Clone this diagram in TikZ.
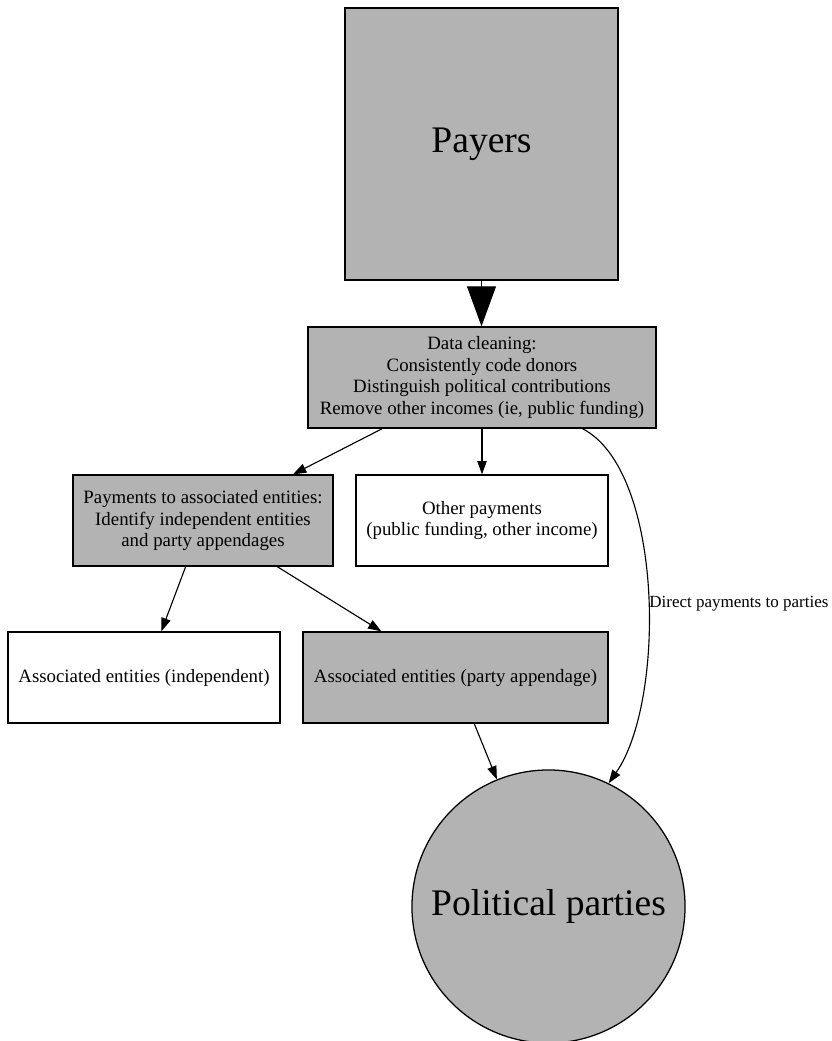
\documentclass[tikz,border=0pt]{standalone}
\usepackage{fontspec}
\setmainfont{Liberation Serif}
\usetikzlibrary{arrows.meta}
\definecolor{boxgray}{HTML}{B3B3B3}

\begin{document}
\begin{tikzpicture}[x=0.025cm, y=0.025cm]

% --- Styles ---
\tikzset{
    graybox/.style={rectangle, fill=boxgray, draw=black, line width=0.9pt,
        inner sep=0pt, align=center, font=\fontsize{13.4}{15.3}\selectfont},
    whitebox/.style={graybox, fill=white},
    bigtext/.style={font=\fontsize{26.7}{32}\selectfont},
    flow/.style={-{Triangle[length=9.5pt, width=6.7pt]}, line width=0.8pt},
    bigflow/.style={-{Triangle[length=28.5pt, width=20.6pt]}, line width=0.8pt},
    edgelabel/.style={anchor=west, inner sep=0.5pt, font=\fontsize{12.1}{14}\selectfont}
}

\useasboundingbox (0,0) rectangle (832,-1041);

% --- Top: payers and cleaning ---
\node[graybox, bigtext, minimum width=6.825cm, minimum height=6.8cm] (payers) at (481.5,-144) {Payers};
\node[graybox, minimum width=8.7cm, minimum height=2.525cm] (cleaning) at (482,-377.5)
    {Data cleaning:\\Consistently code donors\\Distinguish political contributions\\Remove other incomes (ie, public funding)};

% --- Middle row ---
\node[graybox, minimum width=6.5cm, minimum height=2.275cm] (assocpay) at (203,-520.5)
    {Payments to associated entities:\\Identify independent entities\\and party appendages};
\node[whitebox, minimum width=6.3cm, minimum height=2.275cm] (otherpay) at (482,-520.5)
    {Other payments\\(public funding, other income)};

% --- Associated entities ---
\node[whitebox, minimum width=6.8cm, minimum height=2.275cm] (indep) at (144,-677.5)
    {Associated entities (independent)};
\node[graybox, minimum width=7.625cm, minimum height=2.275cm] (appendage) at (455.5,-677.5)
    {Associated entities (party appendage)};

% --- Parties ---
\node[graybox, bigtext, circle, minimum size=6.825cm] (parties) at (548.5,-906.5) {Political parties};

% --- Edges ---
\draw[bigflow] (payers.south) -- (payers.south |- cleaning.north);
\draw[flow] (cleaning) -- (assocpay);
\draw[flow] (cleaning) -- (otherpay);
\draw[flow] (cleaning.-27.8) to[out=-27, in=55, out looseness=0.66, in looseness=0.72]
    node[pos=0.53, edgelabel] {Direct payments to parties} (parties.64);
\draw[flow] (assocpay) -- (indep);
\draw[flow] (assocpay) -- (appendage);
\draw[flow] (appendage) -- (parties);

\end{tikzpicture}
\end{document}
